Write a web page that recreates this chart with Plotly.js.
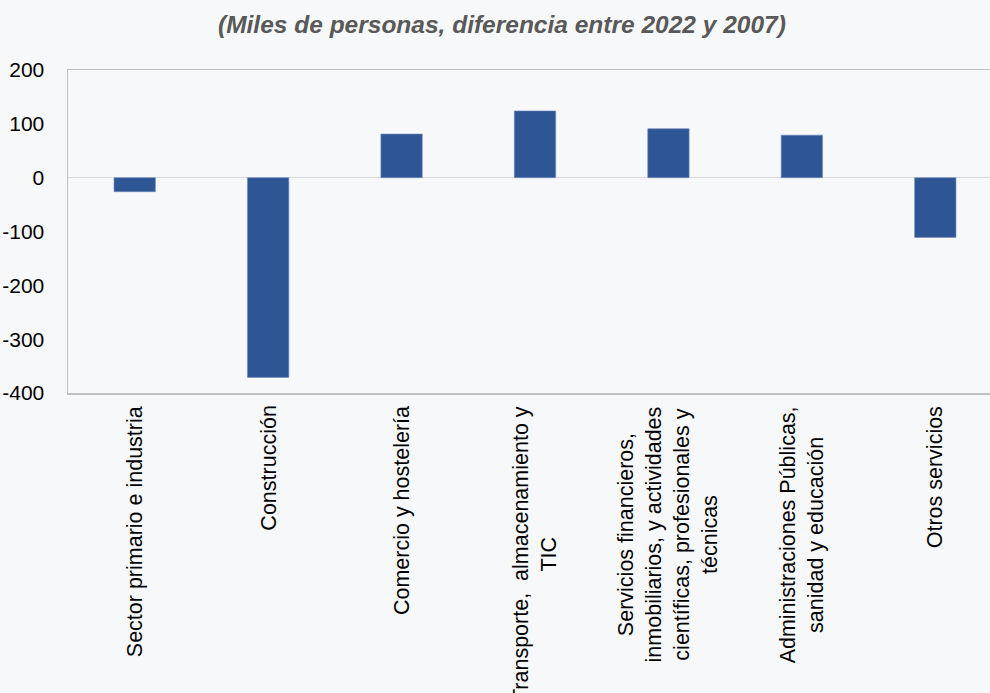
<!DOCTYPE html>
<html>
<head>
<meta charset="utf-8">
<script src="https://cdn.plot.ly/plotly-3.0.1.min.js"></script>
<style>html,body{margin:0;padding:0;background:#f7f8fa;}</style>
</head>
<body>
<div id="chart" style="width:990px;height:693px;"></div>
<script>
const categories = [
  "Sector primario e industria",
  "Construcción",
  "Comercio y hostelería",
  "Transporte,  almacenamiento y<br>TIC",
  "Servicios financieros,<br>inmobiliarios, y actividades<br>científicas, profesionales y<br>técnicas",
  "Administraciones Públicas,<br>sanidad y educación",
  "Otros servicios"
];
const values = [-26, -371, 81, 124, 91, 79, -111];
const yTickValues = [-400, -300, -200, -100, 0, 100, 200];
const yTickLabels = ["-400", "-300", "-200", "-100", "0", "100", "200"];

const FONT = "Liberation Sans, Arial, sans-serif";

const trace = {
  type: "bar",
  x: categories,
  y: values,
  width: 0.31,
  marker: {color: "#2e5594", line: {color: "#6f8cc0", width: 0.6}},
  hoverinfo: "x+y"
};

const labelAnnotations = categories.map(c => ({
  xref: "x", x: c,
  yref: "paper", y: 0,
  yshift: -11,
  text: c,
  textangle: -90,
  showarrow: false,
  xanchor: "center", yanchor: "top",
  align: "center",
  font: {family: FONT, size: 21.5, color: "#000000"}
}));

const layout = {
  width: 990,
  height: 693,
  paper_bgcolor: "#f7f8fa",
  plot_bgcolor: "#f7f8fa",
  margin: {l: 68, r: 0, t: 70, b: 300},
  showlegend: false,
  title: {
    text: "<b><i>(Miles de personas, diferencia entre 2022 y 2007)</i></b>",
    font: {family: FONT, size: 24.5, color: "#595959"},
    x: 0.507, xanchor: "center",
    yref: "container", y: 0.965, yanchor: "middle"
  },
  xaxis: {
    type: "category",
    range: [-0.5, 6.41],
    showticklabels: false,
    showline: true, mirror: true, linecolor: "#bfbfbf", linewidth: 1.5,
    showgrid: false, ticks: "",
    automargin: false
  },
  yaxis: {
    range: [-400, 200],
    tickvals: yTickValues,
    ticktext: yTickLabels,
    tickfont: {family: FONT, size: 21, color: "#000000"},
    showline: true, linecolor: "#bfbfbf", linewidth: 1.5,
    showgrid: false,
    zeroline: true, zerolinecolor: "#d9d9d9", zerolinewidth: 1.5,
    ticks: "", ticklabelstandoff: 18,
    automargin: false
  },
  annotations: labelAnnotations,
  bargap: 0.69
};

Plotly.newPlot("chart", [trace], layout, {displayModeBar: false, staticPlot: true});
</script>
</body>
</html>
